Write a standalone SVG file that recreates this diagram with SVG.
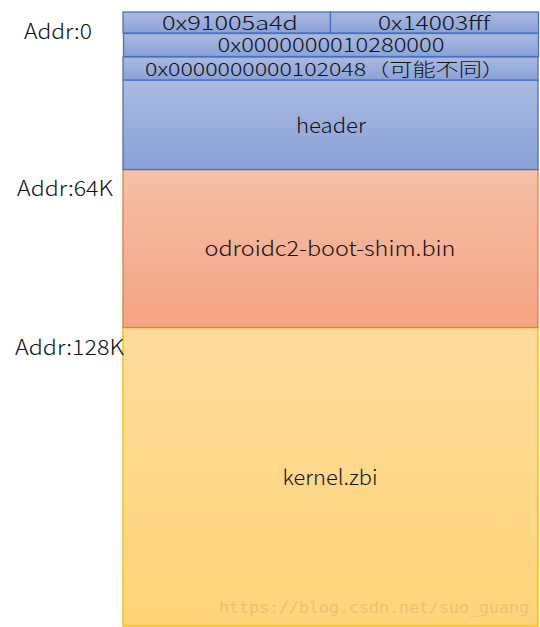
<svg xmlns="http://www.w3.org/2000/svg" width="540" height="627" viewBox="0 0 540 627">
<defs>
<linearGradient id="gb" x1="0" y1="0" x2="0" y2="1"><stop offset="0" stop-color="#aab9e1"/><stop offset="1" stop-color="#8aa2d7"/></linearGradient>
<linearGradient id="go" x1="0" y1="0" x2="0" y2="1"><stop offset="0" stop-color="#f7c0a8"/><stop offset="1" stop-color="#f4a383"/></linearGradient>
<linearGradient id="gy" x1="0" y1="0" x2="0" y2="1"><stop offset="0" stop-color="#fedc9d"/><stop offset="1" stop-color="#ffd479"/></linearGradient>
<style>
.b{fill:url(#gb);stroke:#4472c4;stroke-width:1.3}
.o{fill:url(#go);stroke:#ed7d31;stroke-width:1.3}
.y{fill:url(#gy);stroke:#ffc000;stroke-width:1.5}
text{font-family:"Noto Sans CJK SC","Noto Sans",sans-serif;font-size:21px;font-weight:300;fill:#111}
.c{text-anchor:middle}
.s{font-size:19px}
.t{font-size:18px}
.w{font-family:"DejaVu Sans Mono",monospace;font-size:15px;font-weight:400;fill:#e6c275}
</style>
</defs>
<g id="kernel"><rect class="y" x="123" y="327.5" width="415" height="298.5"/><text class="c" x="330" y="485" textLength="95" lengthAdjust="spacingAndGlyphs">kernel.zbi</text></g>
<g id="shim"><rect class="o" x="123" y="169.5" width="415" height="158"/><text class="c" x="330" y="256" textLength="251" lengthAdjust="spacingAndGlyphs">odroidc2-boot-shim.bin</text></g>
<g id="header"><rect class="b" x="123" y="80" width="415" height="89.5"/><text class="c" x="331" y="133" textLength="70" lengthAdjust="spacingAndGlyphs">header</text></g>
<g id="magic1"><rect class="b" x="123" y="12" width="207.5" height="21"/><text class="c s" x="230" y="29.5" textLength="136" lengthAdjust="spacingAndGlyphs">0x91005a4d</text></g>
<g id="magic2"><rect class="b" x="330.5" y="12" width="208" height="21"/><text class="c s" x="434" y="29.5" textLength="112" lengthAdjust="spacingAndGlyphs">0x14003fff</text></g>
<g id="addr1"><rect class="b" x="123.5" y="33.5" width="415" height="23"/><text class="c s" x="331" y="52" textLength="227" lengthAdjust="spacingAndGlyphs">0x0000000010280000</text></g>
<g id="addr2"><rect class="b" x="123" y="57" width="415" height="23"/><text class="c t" x="325" y="75.5" textLength="360" lengthAdjust="spacingAndGlyphs">0x0000000000102048（可能不同）</text></g>
<g id="labels">
<text x="24" y="39" textLength="68" lengthAdjust="spacingAndGlyphs">Addr:0</text>
<text x="17" y="196" textLength="96" lengthAdjust="spacingAndGlyphs">Addr:64K</text>
<text x="15" y="355" textLength="109" lengthAdjust="spacingAndGlyphs">Addr:128K</text>
</g>
<g id="connectors"/>
<text class="w" x="219" y="613" textLength="310" lengthAdjust="spacingAndGlyphs">https://blog.csdn.net/suo_guang</text>
</svg>
